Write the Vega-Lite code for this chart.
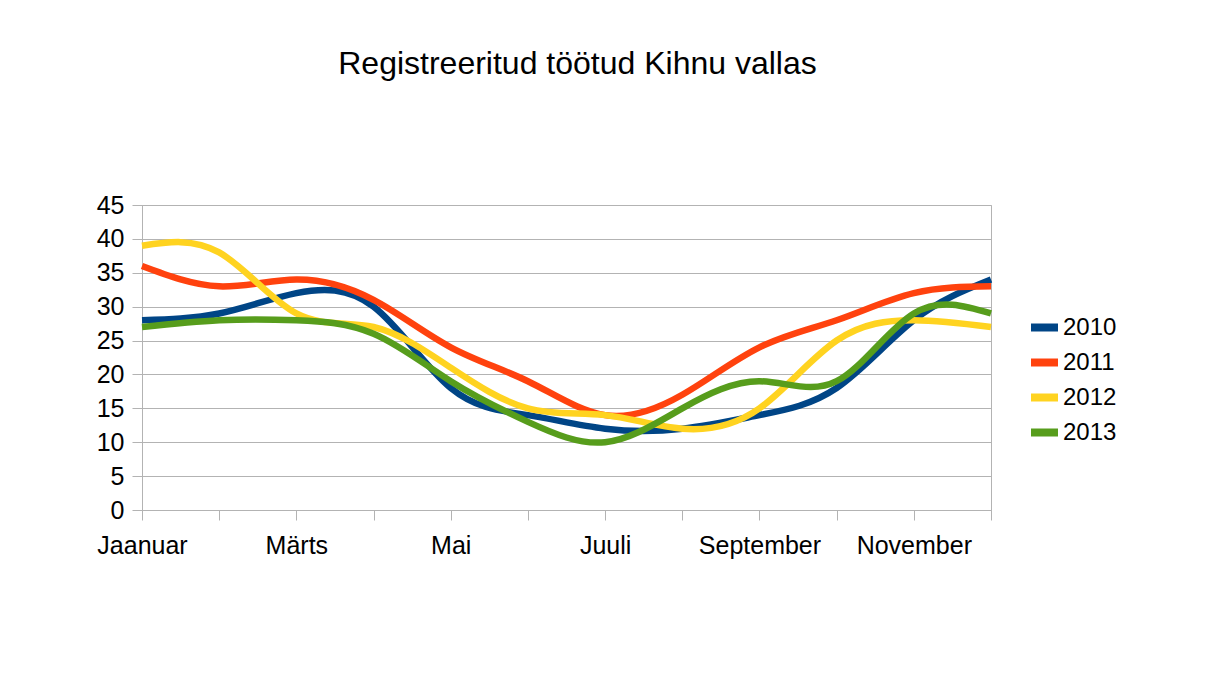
{
  "$schema": "https://vega.github.io/schema/vega-lite/v6.json",
  "autosize": "none",
  "width": 849,
  "height": 305,
  "padding": {"left": 142, "top": 205, "right": 215, "bottom": 165},
  "background": "white",
  "config": {
    "font": "Liberation Sans",
    "view": {"stroke": "#b3b3b3", "strokeWidth": 1}
  },
  "title": {
    "text": "Registreeritud töötud Kihnu vallas",
    "fontSize": 32,
    "fontWeight": "normal",
    "color": "black",
    "font": "Liberation Sans",
    "anchor": "middle",
    "dx": 11,
    "offset": 112
  },
  "data": {
    "values": [
      {"month": "Jaanuar", "year": "2010", "value": 28},
      {"month": "Veebruar", "year": "2010", "value": 29},
      {"month": "Märts", "year": "2010", "value": 32},
      {"month": "Aprill", "year": "2010", "value": 30},
      {"month": "Mai", "year": "2010", "value": 18},
      {"month": "Juuni", "year": "2010", "value": 14},
      {"month": "Juuli", "year": "2010", "value": 12},
      {"month": "August", "year": "2010", "value": 12},
      {"month": "September", "year": "2010", "value": 14},
      {"month": "Oktoober", "year": "2010", "value": 18},
      {"month": "November", "year": "2010", "value": 28},
      {"month": "Detsember", "year": "2010", "value": 34},
      {"month": "Jaanuar", "year": "2011", "value": 36},
      {"month": "Veebruar", "year": "2011", "value": 33},
      {"month": "Märts", "year": "2011", "value": 34},
      {"month": "Aprill", "year": "2011", "value": 31},
      {"month": "Mai", "year": "2011", "value": 24},
      {"month": "Juuni", "year": "2011", "value": 19},
      {"month": "Juuli", "year": "2011", "value": 14},
      {"month": "August", "year": "2011", "value": 17},
      {"month": "September", "year": "2011", "value": 24},
      {"month": "Oktoober", "year": "2011", "value": 28},
      {"month": "November", "year": "2011", "value": 32},
      {"month": "Detsember", "year": "2011", "value": 33},
      {"month": "Jaanuar", "year": "2012", "value": 39},
      {"month": "Veebruar", "year": "2012", "value": 38},
      {"month": "Märts", "year": "2012", "value": 29},
      {"month": "Aprill", "year": "2012", "value": 27},
      {"month": "Mai", "year": "2012", "value": 21},
      {"month": "Juuni", "year": "2012", "value": 15},
      {"month": "Juuli", "year": "2012", "value": 14},
      {"month": "August", "year": "2012", "value": 12},
      {"month": "September", "year": "2012", "value": 15},
      {"month": "Oktoober", "year": "2012", "value": 25},
      {"month": "November", "year": "2012", "value": 28},
      {"month": "Detsember", "year": "2012", "value": 27},
      {"month": "Jaanuar", "year": "2013", "value": 27},
      {"month": "Veebruar", "year": "2013", "value": 28},
      {"month": "Märts", "year": "2013", "value": 28},
      {"month": "Aprill", "year": "2013", "value": 26},
      {"month": "Mai", "year": "2013", "value": 19},
      {"month": "Juuni", "year": "2013", "value": 13},
      {"month": "Juuli", "year": "2013", "value": 10},
      {"month": "August", "year": "2013", "value": 15},
      {"month": "September", "year": "2013", "value": 19},
      {"month": "Oktoober", "year": "2013", "value": 19},
      {"month": "November", "year": "2013", "value": 29},
      {"month": "Detsember", "year": "2013", "value": 29}
    ]
  },
  "mark": {"type": "line", "interpolate": "natural", "strokeWidth": 6.5, "strokeCap": "butt"},
  "encoding": {
    "x": {
      "field": "month",
      "type": "ordinal",
      "sort": ["Jaanuar", "Veebruar", "Märts", "Aprill", "Mai", "Juuni", "Juuli", "August", "September", "Oktoober", "November", "Detsember"],
      "scale": {"type": "point", "padding": 0},
      "axis": {
        "title": null,
        "labelAngle": 0,
        "labelFontSize": 25,
        "labelColor": "black",
        "labelPadding": 13,
        "labelOverlap": false,
        "labelExpr": "indexof(['Jaanuar','Märts','Mai','Juuli','September','November'], datum.value) >= 0 ? datum.value : ''",
        "tickSize": 10,
        "tickColor": "#b3b3b3",
        "domainColor": "#b3b3b3",
        "grid": false
      }
    },
    "y": {
      "field": "value",
      "type": "quantitative",
      "scale": {"domain": [0, 45], "nice": false},
      "axis": {
        "title": null,
        "values": [0, 5, 10, 15, 20, 25, 30, 35, 40, 45],
        "labelFontSize": 25,
        "labelColor": "black",
        "labelPadding": 8,
        "tickSize": 10,
        "tickColor": "#b3b3b3",
        "domainColor": "#b3b3b3",
        "gridColor": "#b3b3b3",
        "grid": true
      }
    },
    "color": {
      "field": "year",
      "type": "nominal",
      "scale": {"domain": ["2010", "2011", "2012", "2013"], "range": ["#004586", "#ff420e", "#ffd320", "#579d1c"]},
      "legend": {
        "title": null,
        "orient": "none",
        "legendX": 885,
        "legendY": 105,
        "padding": 0,
        "symbolType": "stroke",
        "symbolSize": 729,
        "symbolStrokeWidth": 8,
        "labelFontSize": 24,
        "labelColor": "black",
        "labelOffset": 1,
        "rowPadding": 1
      }
    }
  }
}
